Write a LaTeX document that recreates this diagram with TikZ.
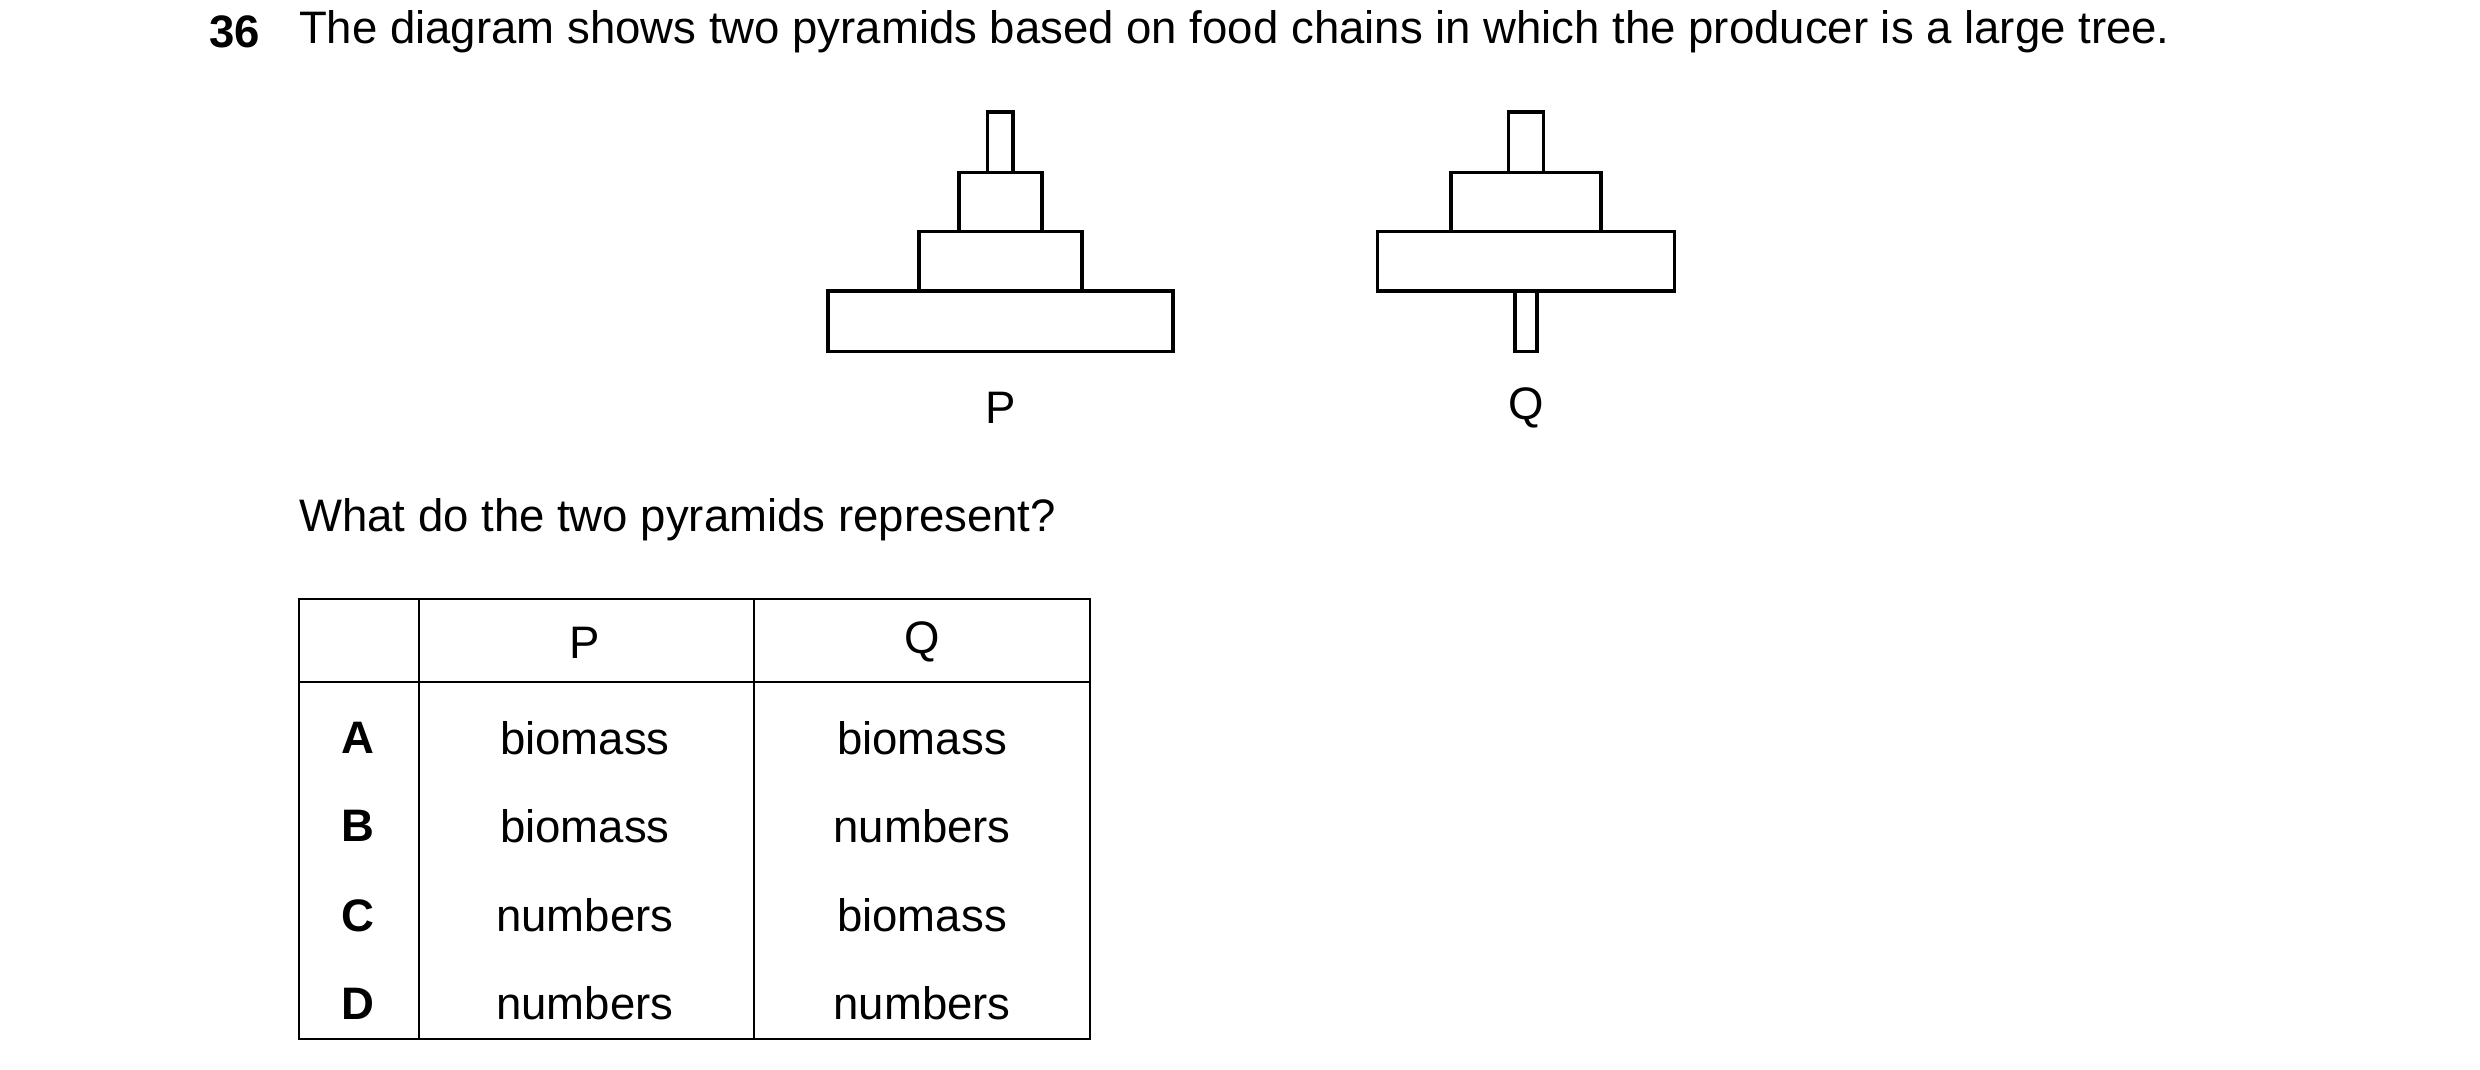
\documentclass[tikz,border=0pt]{standalone}
\usepackage{fontspec}
\setmainfont{Liberation Sans}
\tikzset{
    every node/.style={inner sep=0pt, font=\fontsize{28.5}{34}\selectfont},
    tier/.style={line width=2.2pt},
    grid/.style={line width=1.4pt}
}
\begin{document}
\begin{tikzpicture}[x=1pt, y=-1pt]
    \useasboundingbox (0,0) rectangle (1552,669);
    \node (num) [anchor=west] at (131,20) {\textbf{36}};
    \node (quest) [anchor=west] at (187,20) {The diagram shows two pyramids based on food chains in which the producer is a large tree.};

    % pyramid P
    \draw[tier] (618,70) rectangle (634,108);
    \draw[tier] (600,108) rectangle (652,145);
    \draw[tier] (575,145) rectangle (677,182);
    \draw[tier] (518,182) rectangle (734,220);
    \node (labP) at (626,255) {P};

    % pyramid Q
    \draw[tier] (944,70) rectangle (966,108);
    \draw[tier] (908,108) rectangle (1002,145);
    \draw[tier] (862,145) rectangle (1048,182);
    \draw[tier] (948,182) rectangle (962,220);
    \node (labQ) at (955,255) {Q};

    \node (ask) [anchor=west] at (187,325) {What do the two pyramids represent?};

    % table
    \draw[grid] (187,375) rectangle (682,650);
    \draw[grid] (187,427) -- (682,427);
    \draw[grid] (262,375) -- (262,650);
    \draw[grid] (472,375) -- (472,650);
    \node (hP) at (366,402) {P};
    \node (hQ) at (577,402) {Q};
    \foreach \k/\p/\q/\y in {A/biomass/biomass/462, B/biomass/numbers/517,
                             C/numbers/biomass/573, D/numbers/numbers/628} {
        \node (key\k) at (224,\y) {\textbf{\k}};
        \node (p\k) at (366,\y) {\p};
        \node (q\k) at (577,\y) {\q};
    }
\end{tikzpicture}
\end{document}
